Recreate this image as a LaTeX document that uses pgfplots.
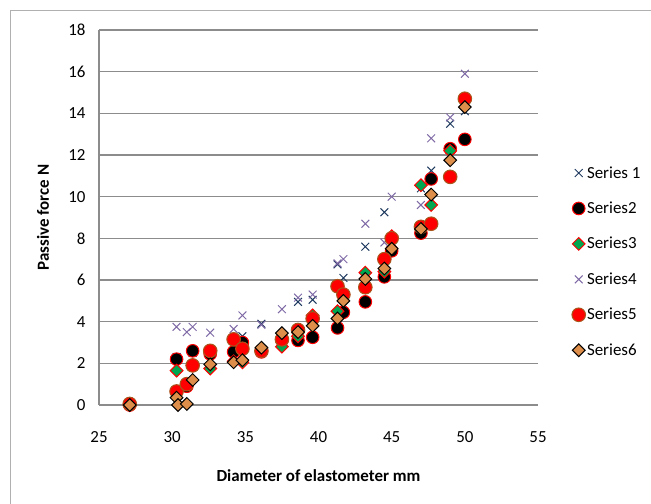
\documentclass[border=0pt]{standalone}
\usepackage{fontspec}
\setmainfont{Carlito}
\usepackage{pgfplots}
\pgfplotsset{compat=1.18}
\definecolor{navyx}{HTML}{1F3A5F}
\definecolor{purplex}{HTML}{7F6AA6}
\definecolor{redline}{HTML}{FF0000}
\definecolor{greenfill}{HTML}{00A650}
\definecolor{brownline}{HTML}{A8561C}
\definecolor{tanfill}{HTML}{DC8E4A}
\definecolor{gridgray}{HTML}{8C8C8C}
\definecolor{framegray}{HTML}{B0B0B0}
\begin{document}
\begin{tikzpicture}[x=1bp,y=1bp]
\useasboundingbox (0,0) rectangle (651,504);
\draw[framegray,line width=0.8bp] (10,0) -- (10,494) -- (651,494);
\begin{axis}[
  at={(99bp,99bp)}, anchor=south west, scale only axis,
  width=439bp, height=375bp,
  xmin=25, xmax=55, ymin=0, ymax=18,
  xtick={25,30,...,55}, ytick={0,2,...,18},
  axis lines=left, axis line style={-,gridgray,line width=1.2bp},
  major tick length=0pt,
  ymajorgrids, grid style={gridgray,line width=1.2bp},
  clip=false,
  /pgf/number format/assume math mode=true,
  tick label style={font=\fontsize{17}{20}\selectfont},
  xticklabel style={yshift=-23bp},
  yticklabel style={xshift=-10bp},
  xlabel={Diameter of elastometer mm},
  ylabel={Passive force N},
  label style={font=\bfseries\fontsize{17}{20}\selectfont},
  x label style={at={(axis description cs:0.5,0)},anchor=center,yshift=-71bp},
  y label style={at={(axis description cs:0,0.5)},anchor=center,yshift=56bp},
  legend style={draw=none,fill=none,at={(1.07,0.646)},anchor=north west,
    font=\fontsize{17}{20}\selectfont,row sep=19.3bp,nodes={inner sep=1.5bp}},
  legend cell align=left,
  legend image code/.code={\draw[#1] plot coordinates {(0bp,0bp)};},
]
% Series 1
\addplot[only marks,mark=x,mark size=5.5bp,navyx,mark options={line width=1bp}] coordinates {
(27.1,0) (30.3,2.3) (31.0,1.0) (31.4,2.5) (32.6,2.1) (34.2,2.6) (34.8,3.3) (36.1,3.9) (37.5,3.3) (38.6,4.95)
(39.6,5.05) (41.3,6.75) (41.7,6.1) (43.2,7.6) (44.5,9.25) (45.0,7.5) (47.0,10.4) (47.7,11.25) (49.0,13.5) (50.0,14.1)};
\addlegendentry{Series 1}
% Series 2
\addplot[only marks,mark=*,mark size=6.3bp,mark options={fill=black,draw=redline,line width=1bp}] coordinates {
(27.1,0) (30.3,2.2) (31.0,0.9) (31.4,2.6) (32.6,2.45) (34.2,2.55) (34.8,3.0) (36.1,2.55) (37.5,3.1) (38.6,3.1)
(39.6,3.25) (41.3,3.7) (41.7,4.45) (43.2,4.95) (44.5,6.15) (45.0,7.4) (47.0,8.25) (47.7,10.85) (49.0,12.3) (50.0,12.75)};
\addlegendentry{Series2}
% Series 3
\addplot[only marks,mark=square*,mark size=4.5bp,mark options={rotate=45,fill=greenfill,draw=redline,line width=1bp}] coordinates {
(27.1,0) (30.3,1.65) (31.0,1.0) (31.4,1.9) (32.6,1.75) (34.2,2.1) (34.8,2.05) (36.1,2.6) (37.5,2.8) (38.6,3.3)
(39.6,4.3) (41.3,4.5) (41.7,5.3) (43.2,6.35) (44.5,6.4) (45.0,8.1) (47.0,10.55) (47.7,9.6) (49.0,12.2) (50.0,14.6)};
\addlegendentry{Series3}
% Series 4
\addplot[only marks,mark=x,mark size=5.5bp,purplex,mark options={line width=1bp}] coordinates {
(30.3,3.75) (31.0,3.5) (31.4,3.75) (32.6,3.47) (34.2,3.65) (34.8,4.3) (36.1,3.85) (37.5,4.6) (38.6,5.15)
(39.6,5.3) (41.3,6.8) (41.7,7.0) (43.2,8.7) (44.5,7.8) (45.0,10.0) (47.0,9.6) (47.7,12.8) (49.0,13.8) (50.0,15.9)};
\addlegendentry{Series4}
% Series 5
\addplot[only marks,mark=*,mark size=6.8bp,mark options={fill=redline,draw=brownline,line width=1bp}] coordinates {
(27.1,0.05) (30.3,0.65) (31.0,1.0) (31.4,1.9) (32.6,2.6) (34.2,3.15) (34.8,2.7) (36.1,2.6) (37.5,3.15) (38.6,3.6)
(39.6,4.15) (41.3,5.7) (41.7,5.3) (43.2,5.65) (44.5,7.0) (45.0,8.0) (47.0,8.55) (47.7,8.7) (49.0,10.95) (50.0,14.7)};
\addlegendentry{Series5}
% Series 6
\addplot[only marks,mark=square*,mark size=4.5bp,mark options={rotate=45,fill=tanfill,draw=black,line width=1bp}] coordinates {
(27.1,0) (30.3,0.35) (30.4,0) (31.0,0.05) (31.4,1.2) (32.6,1.95) (34.2,2.05) (34.8,2.15) (36.1,2.75) (37.5,3.45) (38.6,3.5)
(39.6,3.8) (41.3,4.15) (41.7,5.0) (43.2,6.05) (44.5,6.55) (45.0,7.5) (47.0,8.45) (47.7,10.1) (49.0,11.75) (50.0,14.3)};
\addlegendentry{Series6}
\end{axis}
\end{tikzpicture}
\end{document}
